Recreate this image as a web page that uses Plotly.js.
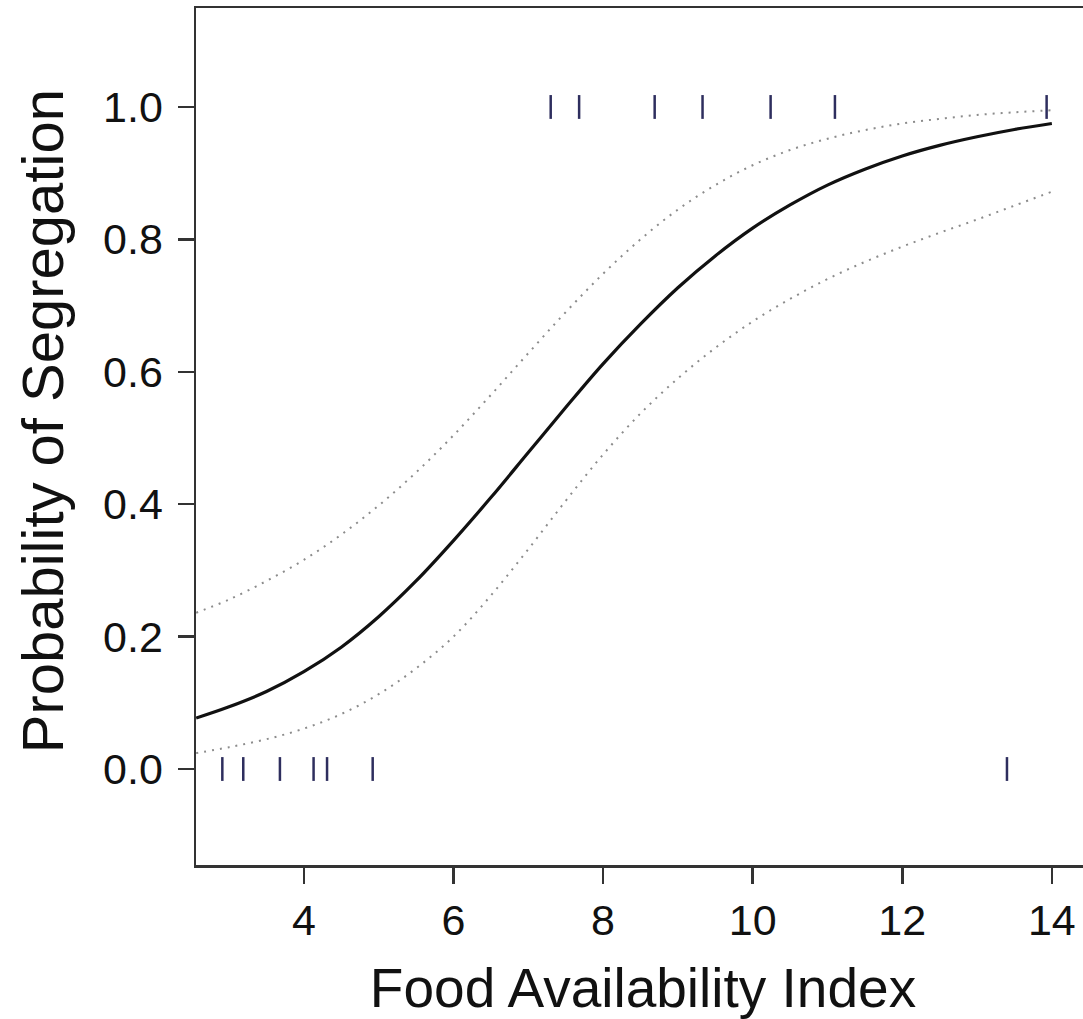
<!DOCTYPE html>
<html>
<head>
<meta charset="utf-8">
<script src="https://cdn.plot.ly/plotly-3.0.1.min.js"></script>
<style>
html, body { margin: 0; padding: 0; overflow: hidden; background: #fff; }
#chart { width: 1100px; height: 1019px; }
</style>
</head>
<body>
<div id="chart"></div>
<script>
// Food availability index grid (x) and read-off probabilities
const foodIndex = [2.56, 3, 3.5, 4, 4.5, 5, 5.5, 6, 6.5, 7, 7.5, 8, 8.5, 9, 9.5, 10, 10.5, 11, 11.5, 12, 12.5, 13, 13.5, 14];
const fitProb   = [0.077, 0.094, 0.117, 0.147, 0.184, 0.23, 0.284, 0.345, 0.41, 0.478, 0.546, 0.612, 0.672, 0.727, 0.775, 0.817, 0.852, 0.882, 0.906, 0.926, 0.942, 0.955, 0.966, 0.975];
const upperCI   = [0.236, 0.256, 0.284, 0.316, 0.354, 0.398, 0.448, 0.504, 0.565, 0.628, 0.69, 0.748, 0.8, 0.845, 0.882, 0.912, 0.935, 0.952, 0.965, 0.975, 0.982, 0.988, 0.992, 0.995];
const lowerCI   = [0.024, 0.033, 0.045, 0.061, 0.083, 0.113, 0.152, 0.2, 0.262, 0.332, 0.405, 0.475, 0.537, 0.59, 0.636, 0.676, 0.71, 0.74, 0.766, 0.789, 0.81, 0.83, 0.851, 0.872];

// Observed sites (rug marks)
const segregated    = [7.30, 7.68, 8.69, 9.33, 10.24, 11.10, 13.93];   // outcome = 1
const notSegregated = [2.91, 3.19, 3.68, 4.13, 4.31, 4.92, 13.40];     // outcome = 0

const yTicks = [0.0, 0.2, 0.4, 0.6, 0.8, 1.0];
const xTicks = [4, 6, 8, 10, 12, 14];

const rugHalf = 0.018;
function rug(vals, level) {
  const xs = [], ys = [];
  vals.forEach(v => { xs.push(v, v, null); ys.push(level - rugHalf, level + rugHalf, null); });
  return { xs, ys };
}
const r1 = rug(segregated, 1);
const r0 = rug(notSegregated, 0);

const font = 'Liberation Sans, Arial, Helvetica, sans-serif';
const ciLine = { color: '#8c8c8c', width: 2, dash: '2px,6px', shape: 'spline' };

const traces = [
  { x: foodIndex, y: upperCI, mode: 'lines', line: ciLine, hoverinfo: 'skip' },
  { x: foodIndex, y: lowerCI, mode: 'lines', line: ciLine, hoverinfo: 'skip' },
  { x: foodIndex, y: fitProb, mode: 'lines', line: { color: '#111111', width: 3.2, shape: 'spline' } },
  { x: r1.xs, y: r1.ys, mode: 'lines', line: { color: '#2e2e5e', width: 2.5 }, connectgaps: false },
  { x: r0.xs, y: r0.ys, mode: 'lines', line: { color: '#2e2e5e', width: 2.5 }, connectgaps: false }
];

const layout = {
  width: 1100, height: 1019,
  margin: { l: 196, r: 10, t: 8, b: 154 },
  paper_bgcolor: '#ffffff', plot_bgcolor: '#ffffff',
  showlegend: false,
  font: { family: font, color: '#111' },
  xaxis: {
    range: [2.558, 14.51],
    tickvals: xTicks, ticktext: xTicks.map(String),
    ticks: 'outside', ticklen: 16, tickwidth: 2.5, tickcolor: '#333',
    showline: true, linecolor: '#333', linewidth: 2.5, mirror: true,
    showgrid: false, zeroline: false,
    tickfont: { size: 43, family: font, color: '#111' },
    title: { text: 'Food Availability Index', font: { size: 55, family: font, color: '#111' }, standoff: 28 },
    automargin: false
  },
  yaxis: {
    range: [-0.145, 1.1495],
    tickvals: yTicks, ticktext: yTicks.map(v => v.toFixed(1)),
    ticks: 'outside', ticklen: 16, tickwidth: 2.5, tickcolor: '#333',
    ticklabelstandoff: 6,
    showline: true, linecolor: '#333', linewidth: 2.5, mirror: true,
    showgrid: false, zeroline: false,
    tickfont: { size: 43, family: font, color: '#111' },
    automargin: false
  },
  annotations: [{
    text: 'Probability of Segregation',
    xref: 'paper', yref: 'paper',
    x: -0.172, y: 0.518, xanchor: 'center', yanchor: 'middle',
    textangle: -90, showarrow: false,
    font: { size: 58, family: font, color: '#111' }
  }]
};

Plotly.newPlot('chart', traces, layout, { displayModeBar: false, staticPlot: true });
</script>
</body>
</html>
